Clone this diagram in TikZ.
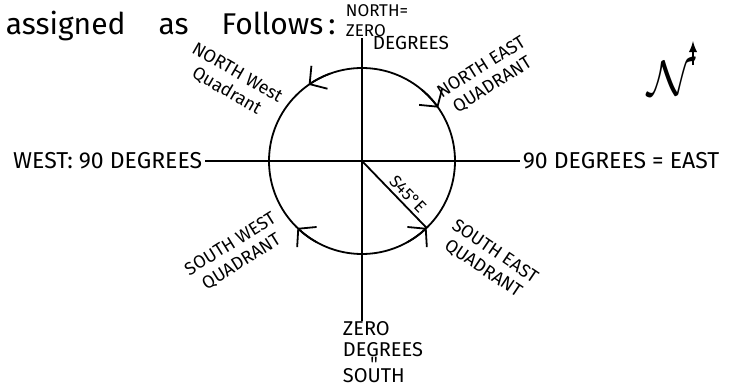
\documentclass[tikz,border=0pt]{standalone}
\usepackage{fontspec}
\setmainfont{Fira Sans}
\usepackage{amsmath}
\usetikzlibrary{arrows.meta, calc, positioning}

\begin{document}
\begin{tikzpicture}[x=0.5pt, y=0.5pt, >=latex, line width=0.9pt,
    lbl/.style={font=\fontsize{11.5}{11.5}\selectfont, inner sep=1pt},
    small/.style={font=\fontsize{8.5}{10}\selectfont, inner sep=0pt, align=left},
    quad/.style={font=\fontsize{9}{10.5}\selectfont, inner sep=0pt, align=center},
    barb/.style={-{Straight Barb[length=6pt, width=14pt]}}]
    \useasboundingbox (0,0) rectangle (733,391);
    \coordinate (O) at (362,230);
    \def\rad{93}

    % Dong tieu de
    \node[anchor=west, font=\fontsize{15}{15}\selectfont, inner sep=0pt] (head) at (5,365)
        {assigned\hspace{1.1em}as\hspace{1.1em}Follows\,:};

    % Cac truc
    \node[lbl, anchor=east] (west) at (205,230) {WEST: 90 DEGREES};
    \node[lbl, anchor=west] (east) at (520,230) {90 DEGREES = EAST};
    \node[small, anchor=north west] (north) at (345,387) {NORTH=\\ZERO};
    \node[small, anchor=west, font=\fontsize{9.5}{10}\selectfont] (ndeg) at (372,348) {DEGREES};
    \node[anchor=north west, align=left, inner sep=0pt, font=\fontsize{10}{10.5}\selectfont] (south) at (342,70)
        {ZERO\\DEGREES\\[-4pt]\hspace{1.3em}\texttt{"}\\[-4pt]SOUTH};
    \draw (west) -- (east);
    \draw (O |- north.south) -- (O |- south.north);

    % Duong tron va mui ten tren cac goc phan tu
    \draw (O) circle (\rad);
    \draw[barb] (O) ++(110:\rad) arc (110:125:\rad);
    \draw[barb] (O) ++(50:\rad) arc (50:35:\rad);
    \draw[barb] (O) ++(-61:\rad) arc (-61:-46:\rad);
    \draw[barb] (O) ++(241:\rad) arc (241:226:\rad);

    % Huong S45E
    \draw (O) -- ++(-46:\rad) node[pos=0.6, above, sloped, small, inner sep=1.5pt] {S45°E};

    % Ten cac goc phan tu
    \node[quad, rotate=-30] (nw) at (232,309) {NORTH West\\Quadrant};
    \node[quad, rotate=32] (ne) at (487,315) {NORTH EAST\\QUADRANT};
    \node[quad, rotate=32] (sw) at (236,138) {SOUTH WEST\\QUADRANT};
    \node[quad, rotate=-34] (se) at (489,131) {SOUTH EAST\\QUADRANT};

    % Ky hieu huong Bac
    \node[inner sep=0pt, font=\fontsize{24}{24}\selectfont] (nsym) at (672,312) {$\mathcal{N}$};
    \draw[->] ([xshift=-2pt, yshift=-2pt]nsym.north east) -- ++(0,24);
\end{tikzpicture}
\end{document}
